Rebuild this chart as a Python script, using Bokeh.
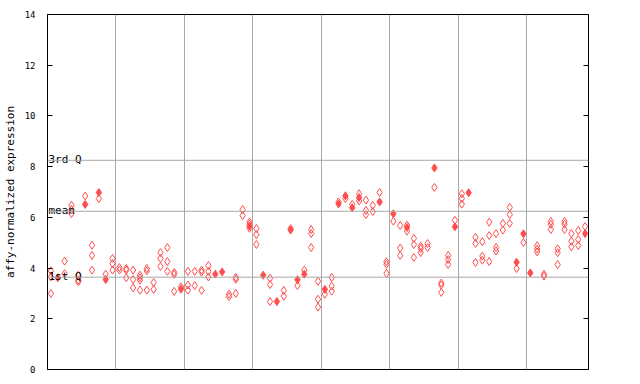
from bokeh.plotting import figure
from bokeh.models import LinearAxis, FixedTicker, Span, Range1d
from bokeh.embed import file_html
from bokeh.resources import INLINE
from bokeh.core.properties import value

# replicate values per sample (open diamonds)
open_vals = [
    [3.89, 3.65, 3.0], [], [4.27, 3.78], [6.48, 6.31, 6.15], [3.72, 3.52, 3.46],
    [6.84], [4.90, 4.50, 3.92], [6.74], [3.76], [4.38, 4.18, 3.92],
    [4.02, 3.92], [3.98, 3.92, 3.62], [3.92, 3.55, 3.22], [3.72, 3.62, 3.52, 3.13], [3.98, 3.89, 3.13],
    [3.43, 3.16], [4.61, 4.38, 4.06], [4.81, 4.26, 3.87], [3.83, 3.75, 3.08], [3.26],
    [3.87, 3.33, 3.13], [3.87, 3.31], [3.92, 3.84, 3.12], [4.10, 3.87, 3.65], [],
    [], [2.97, 2.87], [3.63, 3.56, 3.0], [6.31, 6.07], [5.82, 5.73, 5.57],
    [5.56, 5.32, 4.93], [], [3.60, 3.35, 2.68], [], [3.12, 2.89],
    [5.56], [3.31], [3.92], [5.52, 5.36, 4.81], [3.48, 2.77, 2.46],
    [2.97], [3.63, 3.29, 3.09], [6.61], [6.74], [6.51],
    [6.93, 6.65], [6.68, 6.27, 6.11], [6.47, 6.23], [6.98], [4.25, 4.15, 3.79],
    [5.85], [5.68, 4.79, 4.50], [5.69, 5.46], [5.17, 4.93, 4.42], [4.86, 4.77, 4.61],
    [4.97, 4.81], [7.18], [3.41, 3.33, 3.04], [4.50, 4.34, 4.14], [5.88],
    [6.93, 6.74, 6.52], [], [5.21, 4.97, 4.22], [5.04, 4.47, 4.31], [5.81, 5.28, 4.26],
    [5.36, 4.81, 4.68], [5.76, 5.50], [6.39, 6.11, 5.76], [3.98], [5.01],
    [], [4.88, 4.75, 4.64], [3.75, 3.68], [5.84, 5.73, 5.52], [4.76, 4.61, 4.14],
    [5.84, 5.73, 5.52], [5.36, 5.06, 4.84], [5.48, 5.13, 4.89], [5.64],
]
# highlighted (filled) value per sample, None where absent
filled_vals = [
    None, 3.62, None, None, None, 6.51, None, 6.98, 3.55, None,
    None, None, None, None, None, None, None, None, None, 3.17,
    None, None, None, None, 3.76, 3.85, None, None, None, 5.65,
    None, 3.72, None, 2.68, None, 5.50, 3.54, 3.76, None, None,
    3.16, None, 6.53, 6.85, 6.38, 6.78, None, None, 6.61, None,
    6.14, None, 5.60, None, None, None, 7.95, None, None, 5.63,
    None, 6.97, None, None, None, None, None, None, 4.23, 5.35,
    3.81, None, None, None, None, None, None, None, 5.36,
]
quart_values = [8.25, 6.24, 3.64]
quart_labels = ["3rd Q", "mean", "1st Q"]
y_ticks = [0, 2, 4, 6, 8, 10, 12, 14]
group_bounds = [10, 20, 30, 40, 50, 60, 70]

n = len(open_vals)
ox, oy = [], []
for i, vals in enumerate(open_vals):
    for v in vals:
        ox.append(i + 0.5)
        oy.append(v)
fx = [i + 0.5 for i, v in enumerate(filled_vals) if v is not None]
fy = [v for v in filled_vals if v is not None]

RED = "#ff4d4d"
GRID = "#a8a8a8"
MONO = "DejaVu Sans Mono"

p = figure(width=616, height=378, x_range=Range1d(0, n), y_range=Range1d(0, 14),
           output_backend="svg", toolbar_location=None, x_axis_location=None,
           min_border_left=44, min_border_right=28, min_border_top=14, min_border_bottom=9)
p.outline_line_color = "black"
p.outline_line_alpha = 1.0
p.ygrid.visible = False
p.xgrid.ticker = FixedTicker(ticks=group_bounds)
p.xgrid.grid_line_color = GRID
p.xgrid.grid_line_alpha = 1.0

ax = p.yaxis[0]
ax.ticker = FixedTicker(ticks=y_ticks)
ax.major_tick_in = 5
ax.major_tick_out = 0
ax.minor_tick_in = 0
ax.minor_tick_out = 0
ax.axis_line_color = "black"
ax.major_label_standoff = 12
ax.major_label_text_font = MONO
ax.major_label_text_font_size = "9px"
ax.major_label_text_color = "black"
ax.axis_label = "affy-normalized expression"
ax.axis_label_text_font = MONO
ax.axis_label_text_font_size = "11px"
ax.axis_label_text_font_style = "normal"
ax.axis_label_text_color = "black"
ax.axis_label_standoff = 5

rax = LinearAxis(ticker=FixedTicker(ticks=y_ticks),
                 major_label_overrides={t: "" for t in y_ticks},
                 major_tick_in=5, major_tick_out=0, minor_tick_in=0, minor_tick_out=0,
                 major_label_standoff=0, axis_line_color="black")
p.add_layout(rax, "right")

for q in quart_values:
    p.add_layout(Span(location=q, dimension="width", line_color=GRID, line_width=1))

p.scatter(ox, oy, marker="diamond", size=8, line_color=RED, fill_color=None, line_width=1)
p.scatter(fx, fy, marker="diamond", size=8, line_color=RED, fill_color=RED, line_width=1)

p.text(x=[0, 0, 0], y=quart_values, text=quart_labels, x_offset=1, y_offset=-1,
       text_baseline="alphabetic", text_align="left", text_font=value(MONO),
       text_font_size="11px", text_color="black")

open("out.html", "w").write(file_html(p, INLINE))
